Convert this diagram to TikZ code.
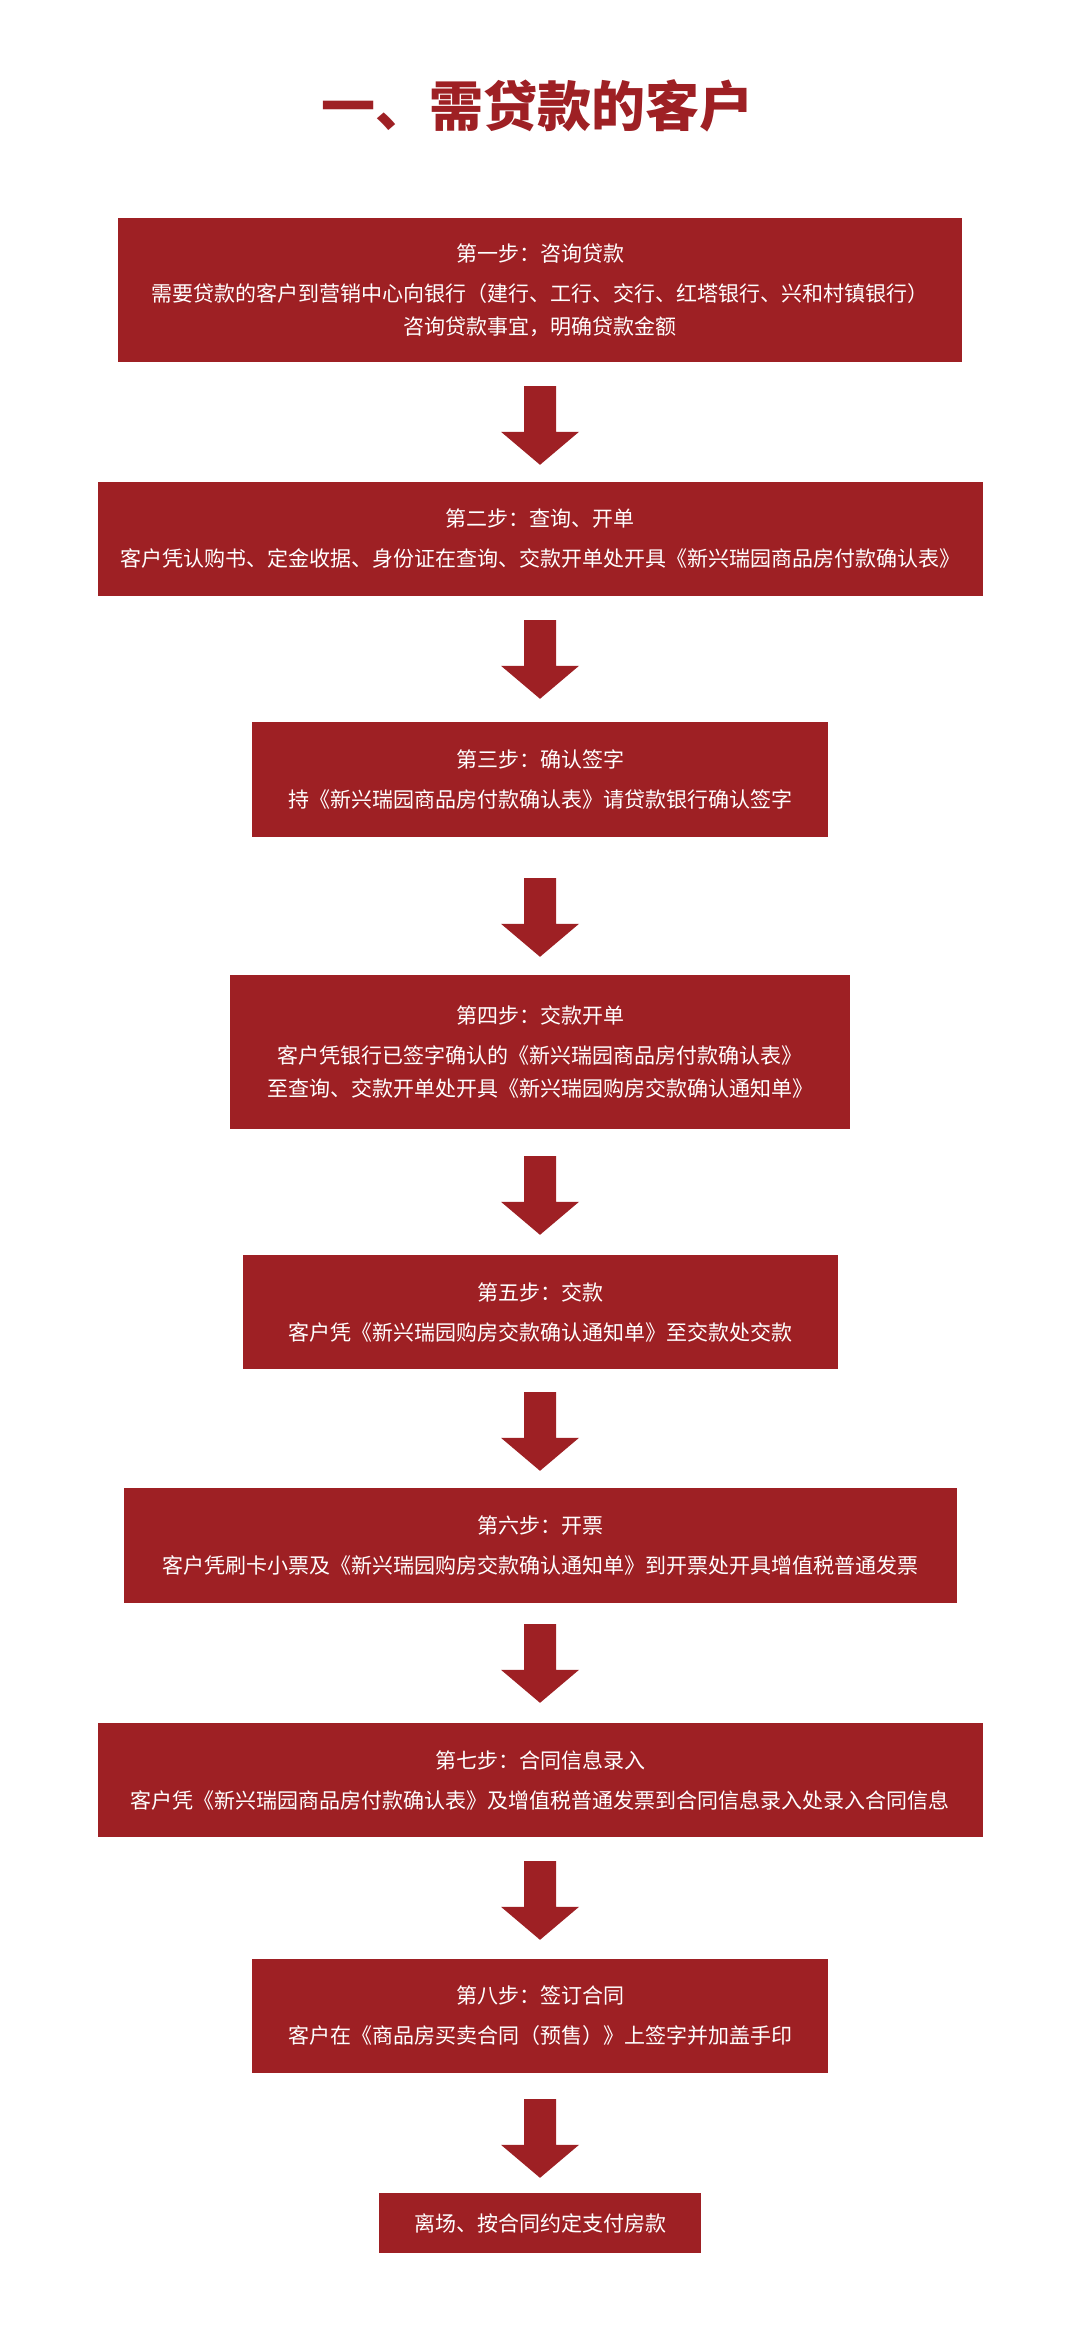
\documentclass[tikz,border=0pt]{standalone}
\usepackage{fontspec}
\usepackage{tikz}
\newfontfamily\cjk{Noto Sans CJK SC}
\definecolor{stepRed}{RGB}{158,32,36}
\tikzstyle{canvas} = [x = 1pt, y = -1pt]
\tikzstyle{stepStyle} = [fill=stepRed, text=white, inner sep=0pt, align=center, font=\cjk\fontsize{21}{33}\selectfont]
\tikzstyle{headingText} = [text=stepRed, inner sep=0pt, font=\cjk\bfseries\fontsize{54}{60}\selectfont]
\tikzstyle{arrowStyle} = [fill=stepRed]
\newcommand{\stepBox}[6]{\node [stepStyle, minimum width=#4, minimum height=#5] (#1) at (#2, #3) {#6};}
\newcommand{\stepTitle}[1]{#1\\[7pt]}
\newcommand{\flowArrow}[4]{
  \path ([yshift=-#3pt]#1.south) coordinate (tail) ([yshift=#4pt]#2.north) coordinate (tip);
  \fill [arrowStyle] ([xshift=-16pt]tail) -- ([xshift=16pt]tail) -- ([xshift=16pt, yshift=33pt]tip)
    -- ([xshift=39pt, yshift=33pt]tip) -- (tip) -- ([xshift=-39pt, yshift=33pt]tip)
    -- ([xshift=-16pt, yshift=33pt]tip) -- cycle;
}

\begin{document}
\begin{tikzpicture}[canvas]
      \fill [white] (0, 0) rectangle (1080, 2331);
      \useasboundingbox (0, 0) rectangle (1080, 2331);

      \node [headingText] (heading) at (537, 106) {一、需贷款的客户};

      \stepBox{stepOne}{540}{290}{844}{144}{\stepTitle{第一步：咨询贷款}需要贷款的客户到营销中心向银行（建行、工行、交行、红塔银行、兴和村镇银行）\\咨询贷款事宜，明确贷款金额}
      \stepBox{stepTwo}{540}{539}{885}{114}{\stepTitle{第二步：查询、开单}客户凭认购书、定金收据、身份证在查询、交款开单处开具《新兴瑞园商品房付款确认表》}
      \stepBox{stepThree}{540}{779.5}{576}{115}{\stepTitle{第三步：确认签字}持《新兴瑞园商品房付款确认表》请贷款银行确认签字}
      \stepBox{stepFour}{540}{1052}{620}{154}{\stepTitle{第四步：交款开单}客户凭银行已签字确认的《新兴瑞园商品房付款确认表》\\至查询、交款开单处开具《新兴瑞园购房交款确认通知单》}
      \stepBox{stepFive}{540}{1312}{595}{114}{\stepTitle{第五步：交款}客户凭《新兴瑞园购房交款确认通知单》至交款处交款}
      \stepBox{stepSix}{540}{1545.5}{833}{115}{\stepTitle{第六步：开票}客户凭刷卡小票及《新兴瑞园购房交款确认通知单》到开票处开具增值税普通发票}
      \stepBox{stepSeven}{540}{1780}{885}{114}{\stepTitle{第七步：合同信息录入}客户凭《新兴瑞园商品房付款确认表》及增值税普通发票到合同信息录入处录入合同信息}
      \stepBox{stepEight}{540}{2016}{576}{114}{\stepTitle{第八步：签订合同}客户在《商品房买卖合同（预售）》上签字并加盖手印}
      \stepBox{leave}{540}{2223}{322}{60}{离场、按合同约定支付房款}

      \foreach \from/\to/\topGap/\botGap in {stepOne/stepTwo/24/17, stepTwo/stepThree/24/23,
        stepThree/stepFour/41/18, stepFour/stepFive/27/20, stepFive/stepSix/23/17,
        stepSix/stepSeven/21/20, stepSeven/stepEight/24/19, stepEight/leave/26/15} {
        \flowArrow{\from}{\to}{\topGap}{\botGap}
      }
\end{tikzpicture}
\end{document}
